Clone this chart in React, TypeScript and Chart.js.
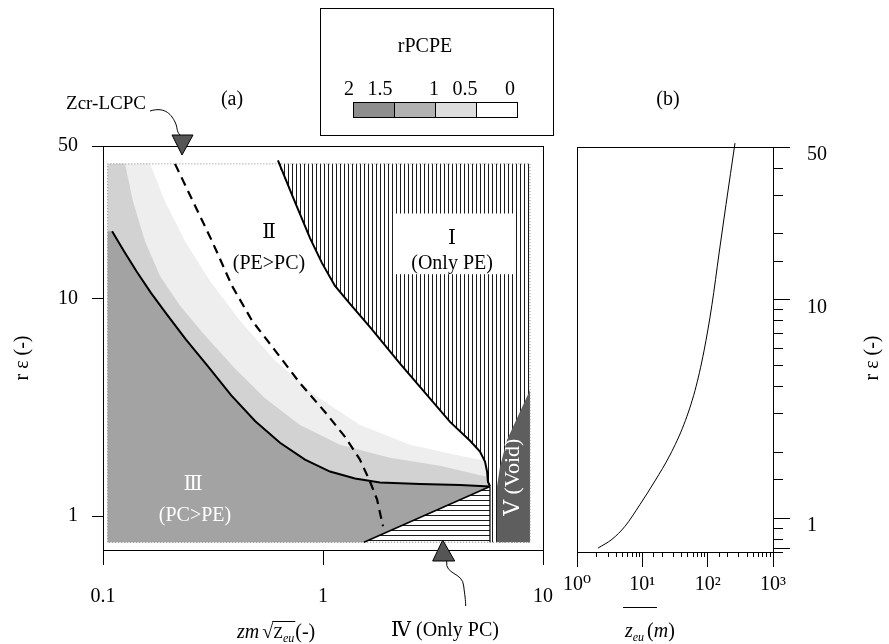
import { useEffect, useRef } from 'react';
import { Chart, registerables } from 'chart.js';

Chart.register(...registerables);

const SERIF = '"Liberation Serif", "DejaVu Serif", "Noto Sans CJK JP", serif';

// ---------------- panel (a): zm·sqrt(zeu) (-) vs r·eps (-) ----------------
const xTicksA = [0.1, 1, 10];
const yTicksA = [1, 10, 50];
const X_MIN_A = 0.1;
const X_MAX_A = 10;
const Y_MIN = 0.73;
const Y_MAX = 50;

// extent of the computed domain
const extentX = [0.105, 8.73];
const extentY = [0.76, 41.4];

// boundary of region I (Only PE)
const bI_x = [0.624, 0.738, 0.873, 0.99, 1.134, 1.327, 1.64, 2.24, 3.78, 4.66, 5.17, 5.45, 5.57, 5.62, 5.74];
const bI_y = [43, 28.4, 18.9, 14.5, 11.4, 9.44, 7.35, 5.02, 2.71, 2.22, 1.98, 1.78, 1.6, 1.44, 1.37];

// boundary of region III (rPCPE = 1)
const bIII_x = [0.11, 0.1246, 0.1427, 0.1652, 0.1954, 0.2384, 0.3001, 0.382, 0.491, 0.6376, 0.8283, 1.076, 1.398, 1.816, 2.76, 4.196, 5.74];
const bIII_y = [20.3, 16.46, 13.2, 10.6, 8.41, 6.47, 4.875, 3.595, 2.737, 2.174, 1.818, 1.603, 1.49, 1.429, 1.406, 1.392, 1.37];

// Zcr-LCPC (dashed)
const zcr_x = [0.2125, 0.2566, 0.313, 0.386, 0.4756, 0.605, 0.786, 1.021, 1.259, 1.472, 1.635, 1.76, 1.874];
const zcr_y = [41.4, 27.8, 18.3, 11.4, 7.9, 5.77, 4.08, 3.01, 2.315, 1.82, 1.444, 1.195, 0.9];

// outer edge of the light shading (rPCPE ~ 0.5)
const c05_x = [0.1636, 0.1913, 0.2359, 0.3064, 0.4195, 0.605, 0.9196, 1.473, 2.486, 4.196, 5.74, 5.74];
const c05_y = [41.4, 27.8, 18.3, 12.02, 7.9, 5.19, 3.595, 2.625, 2.128, 1.896, 1.781, 1.37];

// edge of the denser shading (rPCPE ~ 0.75)
const c075_x = [0.1259, 0.1369, 0.1552, 0.1816, 0.2239, 0.2908, 0.398, 0.545, 0.786, 1.195, 2.016, 3.403, 5.74, 5.74];
const c075_y = [41.4, 27.8, 18.3, 12.66, 9.24, 6.75, 4.77, 3.48, 2.625, 2.128, 1.857, 1.707, 1.505, 1.37];

// upper boundary of region IV (Only PC)
const bIV_x = [1.535, 5.74];
const bIV_y = [0.76, 1.37];

// boundary of region V (Void)
const void_x = [6.18, 6.18, 6.38, 6.86, 8.73];
const void_y = [0.76, 1.37, 1.69, 2.24, 3.8];

// colour bar
const legendLabels = ['2', '1.5', '1', '0.5', '0'];
const legendColors = ['#8e8e8e', '#b2b2b2', '#dddddd', '#ffffff'];

// ---------------- panel (b): zeu (m) vs r·eps (-) ----------------
const zeu = [2.1, 3.43, 5.43, 9.21, 15.6, 26.5, 43.4, 64.0, 87.9, 116.5, 149, 191, 262];
const rEpsB = [0.73, 0.8, 0.918, 1.155, 1.48, 1.946, 2.69, 3.84, 5.83, 9.51, 16.2, 27.3, 52.1];
const xTicksB = [1, 10, 100, 1000];
const xLabelsB = ['10⁰', '10¹', '10²', '10³'];
const yTicksB = [0.73, 1, 10, 50];

// annotation anchors (data units of panel a)
const regionLabels = [
  { text: 'Ⅱ', x: 0.568, y: 19.9, color: '#000' },
  { text: '(PE>PC)', x: 0.568, y: 14.4, color: '#000' },
  { text: 'Ⅰ', x: 3.86, y: 18.7, color: '#000' },
  { text: '(Only PE)', x: 3.86, y: 14.4, color: '#000' },
  { text: 'Ⅲ', x: 0.257, y: 1.4, color: '#fff' },
  { text: '(PC>PE)', x: 0.262, y: 1.0, color: '#fff' },
];
const boxI = { x0: 2.08, x1: 7.46, y0: 12.9, y1: 24.5 };
const voidLabel = { x: 7.31, y: 1.51 };
const arrowIV = { x: 3.5 };

const zip = (xs: number[], ys: number[]) => xs.map((x, i) => ({ x, y: ys[i] }));

function makeHatch(vertical: boolean, step: number, color: string) {
  const c = document.createElement('canvas');
  c.width = step;
  c.height = step;
  const g = c.getContext('2d')!;
  g.fillStyle = '#ffffff';
  g.fillRect(0, 0, step, step);
  g.fillStyle = color;
  if (vertical) g.fillRect(0, 0, 1, step);
  else g.fillRect(0, 0, step, 1);
  return g.createPattern(c, 'repeat');
}

const poly = (label: string, data: any[], bg: any, order: number) => ({
  label, data, backgroundColor: bg, borderColor: 'rgba(0,0,0,0)', borderWidth: 0,
  pointRadius: 0, fill: 'shape', order, tension: 0,
});
const curve = (label: string, data: any[], color: string, width: number, order: number, dash: number[] = []) => ({
  label, data, borderColor: color, borderWidth: width, borderDash: dash,
  pointRadius: 0, fill: false, order, tension: 0,
});

const fixH = (h: number) => (s: any) => { s.height = h; s.paddingLeft = 0; s.paddingRight = 0; };
const fixW = (w: number) => (s: any) => { s.width = w; s.paddingTop = 0; s.paddingBottom = 0; };

const plugA = {
  id: 'annotA',
  afterDraw(chart: any) {
    const { ctx, chartArea: ca } = chart;
    const sx = chart.scales.x;
    const sy = chart.scales.y;
    const X = (v: number) => sx.getPixelForValue(v);
    const Y = (v: number) => sy.getPixelForValue(v);
    ctx.save();
    // frame
    ctx.strokeStyle = '#000';
    ctx.lineWidth = 1;
    ctx.beginPath();
    ctx.moveTo(ca.left, ca.top + 0.5);
    ctx.lineTo(ca.right + 1, ca.top + 0.5);
    ctx.moveTo(ca.right + 0.5, ca.top);
    ctx.lineTo(ca.right + 0.5, ca.bottom);
    ctx.stroke();

    // white box behind label I
    const bx0 = X(boxI.x0), bx1 = X(boxI.x1), by0 = Y(boxI.y1), by1 = Y(boxI.y0);
    ctx.fillStyle = '#fff';
    ctx.fillRect(bx0, by0, bx1 - bx0, by1 - by0);

    ctx.textAlign = 'center';
    ctx.textBaseline = 'middle';
    ctx.font = `20px ${SERIF}`;
    for (const l of regionLabels) {
      ctx.fillStyle = l.color;
      ctx.fillText(l.text, X(l.x), Y(l.y));
    }
    // void label
    ctx.save();
    ctx.translate(X(voidLabel.x), Y(voidLabel.y));
    ctx.rotate(-Math.PI / 2);
    ctx.font = `22px ${SERIF}`;
    ctx.fillStyle = '#fff';
    ctx.fillText('Ⅴ (Void)', 0, 0);
    ctx.restore();

    // (a)
    ctx.fillStyle = '#000';
    ctx.font = `20px ${SERIF}`;
    ctx.fillText('(a)', 232, 100);

    // colour bar legend
    ctx.lineWidth = 1;
    ctx.strokeStyle = '#000';
    ctx.strokeRect(320.5, 8.5, 233, 127);
    ctx.fillText('rPCPE', 425, 47);
    const segW = 41;
    legendColors.forEach((c, i) => {
      ctx.fillStyle = c;
      ctx.fillRect(353 + i * segW, 102, segW, 15);
      ctx.strokeRect(353.5 + i * segW, 102.5, segW, 15);
    });
    ctx.fillStyle = '#000';
    const lx = [349, 380, 434, 465, 510];
    legendLabels.forEach((t, i) => ctx.fillText(t, lx[i], 90));

    // Zcr-LCPC pointer
    ctx.font = `19px ${SERIF}`;
    ctx.fillText('Zcr-LCPC', 106, 104);
    const ax = X(zcr_x[0]) + 7;
    const top = ca.top;
    ctx.beginPath();
    ctx.moveTo(150, 111);
    ctx.bezierCurveTo(166, 106, 172, 116, 175, 122);
    ctx.bezierCurveTo(178, 128, 176, 131, ax - 2, top - 11);
    ctx.stroke();
    ctx.beginPath();
    ctx.moveTo(ax - 10, top - 11);
    ctx.lineTo(ax + 11, top - 11);
    ctx.lineTo(ax, top + 9);
    ctx.closePath();
    ctx.fillStyle = '#555';
    ctx.fill();
    ctx.stroke();

    // IV pointer
    const bx = X(arrowIV.x);
    const bot = ca.bottom;
    ctx.beginPath();
    ctx.moveTo(bx, bot - 10);
    ctx.lineTo(bx + 12, bot + 11);
    ctx.lineTo(bx - 10, bot + 11);
    ctx.closePath();
    ctx.fillStyle = '#555';
    ctx.fill();
    ctx.stroke();
    ctx.beginPath();
    ctx.moveTo(bx + 4, bot + 11);
    ctx.bezierCurveTo(bx + 2, bot + 25, bx + 20, bot + 22, bx + 21, bot + 36);
    ctx.bezierCurveTo(bx + 22, bot + 45, bx + 23, bot + 50, bx + 23, bot + 56);
    ctx.stroke();

    // titles
    ctx.fillStyle = '#000';
    ctx.font = `20px ${SERIF}`;
    ctx.textAlign = 'center';
    ctx.fillText('Ⅳ (Only PC)', 445, 631);

    ctx.save();
    ctx.translate(23, 358);
    ctx.rotate(-Math.PI / 2);
    ctx.fillText('r ε (-)', 0, 0);
    ctx.restore();

    // x title: zm √(Zeu) (-)
    ctx.textAlign = 'left';
    ctx.textBaseline = 'alphabetic';
    const base = 638;
    let x = 237;
    ctx.font = `italic 20px ${SERIF}`;
    ctx.fillText('zm', x, base);
    x += ctx.measureText('zm').width + 3;
    ctx.font = `20px ${SERIF}`;
    ctx.fillText('√', x, base);
    const sw = ctx.measureText('√').width;
    const ov0 = x + sw - 1;
    x += sw;
    ctx.font = `16px ${SERIF}`;
    ctx.fillText('Z', x, base);
    x += ctx.measureText('Z').width;
    ctx.font = `italic 12px ${SERIF}`;
    ctx.fillText('eu', x, base + 4);
    x += ctx.measureText('eu').width + 1;
    ctx.beginPath();
    ctx.moveTo(ov0, base - 16.5);
    ctx.lineTo(x, base - 16.5);
    ctx.stroke();
    ctx.font = `20px ${SERIF}`;
    ctx.fillText('(-)', x, base);
    ctx.restore();
  },
};

const plugB = {
  id: 'annotB',
  afterDraw(chart: any) {
    const { ctx, chartArea: ca } = chart;
    ctx.save();
    ctx.strokeStyle = '#000';
    ctx.lineWidth = 1;
    ctx.beginPath();
    ctx.moveTo(ca.left, ca.top + 0.5);
    ctx.lineTo(ca.right, ca.top + 0.5);
    ctx.moveTo(ca.left + 0.5, ca.top);
    ctx.lineTo(ca.left + 0.5, ca.bottom);
    ctx.stroke();

    ctx.fillStyle = '#000';
    ctx.textAlign = 'center';
    ctx.textBaseline = 'middle';
    ctx.font = `20px ${SERIF}`;
    ctx.fillText('(b)', ca.left + 91, 100);

    ctx.save();
    ctx.translate(ca.right + 100, 358);
    ctx.rotate(-Math.PI / 2);
    ctx.fillText('r ε (-)', 0, 0);
    ctx.restore();

    // x title: z̄eu (m)
    ctx.textAlign = 'left';
    ctx.textBaseline = 'alphabetic';
    const base = 637;
    let x = ca.left + 48;
    ctx.font = `italic 20px ${SERIF}`;
    ctx.fillText('z', x, base);
    x += ctx.measureText('z').width;
    ctx.font = `italic 12px ${SERIF}`;
    ctx.fillText('eu', x, base + 4);
    x += ctx.measureText('eu').width + 3;
    ctx.font = `20px ${SERIF}`;
    ctx.fillText('(', x, base);
    x += ctx.measureText('(').width;
    ctx.font = `italic 20px ${SERIF}`;
    ctx.fillText('m', x, base);
    x += ctx.measureText('m').width;
    ctx.font = `20px ${SERIF}`;
    ctx.fillText(')', x, base);
    ctx.beginPath();
    ctx.moveTo(ca.left + 46, 607.5);
    ctx.lineTo(ca.left + 80, 607.5);
    ctx.stroke();
    ctx.restore();
  },
};

function configA(): any {
  const pv = makeHatch(true, 4, '#1a1a1a');
  const ph = makeHatch(false, 5, '#1a1a1a');
  const jx = bI_x[bI_x.length - 1];
  const jy = bI_y[bI_y.length - 1];

  const shadeOuter = [
    { x: extentX[0], y: extentY[1] }, ...zip(c05_x, c05_y),
    { x: jx, y: extentY[0] }, { x: extentX[0], y: extentY[0] },
  ];
  const shadeInner = [
    { x: extentX[0], y: extentY[1] }, ...zip(c075_x, c075_y),
    { x: jx, y: extentY[0] }, { x: extentX[0], y: extentY[0] },
  ];
  const regionIII = [
    { x: extentX[0], y: extentY[0] }, { x: extentX[0], y: bIII_y[0] },
    ...zip(bIII_x, bIII_y), ...zip(bIV_x, bIV_y).reverse(),
  ];
  const regionIV = [...zip(bIV_x, bIV_y), { x: bIV_x[1], y: extentY[0] }];
  const regionI = [
    { x: bI_x[0], y: extentY[1] }, ...zip(bI_x, bI_y).slice(1),
    { x: jx, y: extentY[0] }, { x: extentX[1], y: extentY[0] }, { x: extentX[1], y: extentY[1] },
  ];
  const regionV = [...zip(void_x, void_y), { x: extentX[1], y: extentY[0] }];
  const extentRect = [
    { x: extentX[0], y: extentY[0] }, { x: extentX[0], y: extentY[1] },
    { x: extentX[1], y: extentY[1] }, { x: extentX[1], y: extentY[0] }, { x: extentX[0], y: extentY[0] },
  ];

  return {
    type: 'line',
    data: {
      datasets: [
        poly('rPCPE 0.5-1 (sparse)', shadeOuter, '#eeeeee', 20),
        poly('rPCPE 0.5-1', shadeInner, '#d2d2d2', 19),
        poly('III (PC>PE)', regionIII, '#a3a3a3', 18),
        poly('IV (Only PC)', regionIV, ph, 17),
        poly('I (Only PE)', regionI, pv, 16),
        poly('V (Void)', regionV, '#5e5e5e', 15),
        curve('extent', extentRect, '#8a8a8a', 1, 10, [1, 2]),
        curve('IV boundary', zip(bIV_x, bIV_y), '#000', 1.5, 4),
        curve('I drop', [{ x: jx, y: jy }, { x: jx, y: extentY[0] }], '#000', 1.2, 3),
        curve('I boundary', zip(bI_x, bI_y), '#000', 2, 2),
        curve('III boundary', zip(bIII_x, bIII_y), '#000', 2, 1),
        curve('Zcr-LCPC', zip(zcr_x, zcr_y), '#000', 2.2, 0, [9, 6]),
      ],
    },
    options: {
      animation: false,
      responsive: true,
      maintainAspectRatio: false,
      events: [],
      layout: { padding: { left: 0, top: 146, right: 17, bottom: 0 } },
      plugins: { legend: { display: false }, tooltip: { enabled: false } },
      scales: {
        x: {
          type: 'logarithmic', min: X_MIN_A, max: X_MAX_A, position: 'bottom',
          afterBuildTicks: (s: any) => { s.ticks = xTicksA.map((v) => ({ value: v })); },
          afterFit: fixH(94),
          grid: { drawOnChartArea: false, tickLength: 15, color: '#000', tickColor: '#000' },
          border: { display: true, color: '#000', width: 1 },
          ticks: {
            autoSkip: false, maxRotation: 0, minRotation: 0, padding: 20, color: '#000',
            font: { family: SERIF, size: 20 }, callback: (v: any) => String(v),
          },
        },
        y: {
          type: 'logarithmic', min: Y_MIN, max: Y_MAX, position: 'left',
          afterBuildTicks: (s: any) => { s.ticks = yTicksA.map((v) => ({ value: v })); },
          afterFit: fixW(103),
          grid: { drawOnChartArea: false, tickLength: 11, color: '#000', tickColor: '#000' },
          border: { display: true, color: '#000', width: 1 },
          ticks: {
            autoSkip: false, padding: 14, color: '#000',
            font: { family: SERIF, size: 20 }, callback: (v: any) => String(v),
          },
        },
      },
    },
    plugins: [plugA],
  };
}

function configB(): any {
  return {
    type: 'line',
    data: {
      datasets: [
        {
          label: 'zeu', data: zip(zeu, rEpsB), borderColor: '#000', borderWidth: 1,
          pointRadius: 0, fill: false, cubicInterpolationMode: 'monotone', clip: false,
        },
      ],
    },
    options: {
      animation: false,
      responsive: true,
      maintainAspectRatio: false,
      events: [],
      layout: { padding: { left: 37, top: 147, right: 0, bottom: 0 } },
      plugins: { legend: { display: false }, tooltip: { enabled: false } },
      scales: {
        x: {
          type: 'logarithmic', min: 1, max: 1000, position: 'bottom',
          afterFit: fixH(0),
          grid: { drawOnChartArea: false, tickLength: 5, color: '#000', tickColor: '#000' },
          border: { display: true, color: '#000', width: 1 },
          ticks: { display: false },
        },
        xM: {
          type: 'logarithmic', min: 1, max: 1000, position: 'bottom',
          afterBuildTicks: (s: any) => { s.ticks = xTicksB.map((v) => ({ value: v })); },
          afterFit: fixH(92),
          grid: { drawOnChartArea: false, tickLength: 15, color: '#000', tickColor: '#000' },
          border: { display: false },
          ticks: {
            autoSkip: false, maxRotation: 0, minRotation: 0, padding: 6, color: '#000',
            font: { family: SERIF, size: 20 }, callback: (_v: any, i: number) => xLabelsB[i],
          },
        },
        y: {
          type: 'logarithmic', min: Y_MIN, max: Y_MAX, position: 'right',
          afterFit: fixW(0),
          grid: { drawOnChartArea: false, tickLength: 10, color: '#000', tickColor: '#000' },
          border: { display: true, color: '#000', width: 1 },
          ticks: { display: false },
        },
        yM: {
          type: 'logarithmic', min: Y_MIN, max: Y_MAX, position: 'right',
          afterBuildTicks: (s: any) => { s.ticks = yTicksB.map((v) => ({ value: v })); },
          afterFit: fixW(116),
          grid: { drawOnChartArea: false, tickLength: 17, color: '#000', tickColor: '#000' },
          border: { display: false },
          ticks: {
            autoSkip: false, padding: 17, labelOffset: 8, color: '#000',
            font: { family: SERIF, size: 20 },
            callback: (v: any) => (yTicksA.includes(v) ? String(v) : ''),
          },
        },
      },
    },
    plugins: [plugB],
  };
}

export default function App() {
  const refA = useRef<HTMLCanvasElement>(null);
  const refB = useRef<HTMLCanvasElement>(null);
  useEffect(() => {
    const a = new Chart(refA.current!, configA());
    const b = new Chart(refB.current!, configB());
    return () => {
      a.destroy();
      b.destroy();
    };
  }, []);
  return (
    <div style={{ position: 'fixed', left: 0, top: 0, width: 889, height: 644, background: '#fff' }}>
      <div style={{ position: 'absolute', left: 0, top: 0, width: 560, height: 644 }}>
        <canvas ref={refA} />
      </div>
      <div style={{ position: 'absolute', left: 540, top: 0, width: 349, height: 644 }}>
        <canvas ref={refB} />
      </div>
    </div>
  );
}
